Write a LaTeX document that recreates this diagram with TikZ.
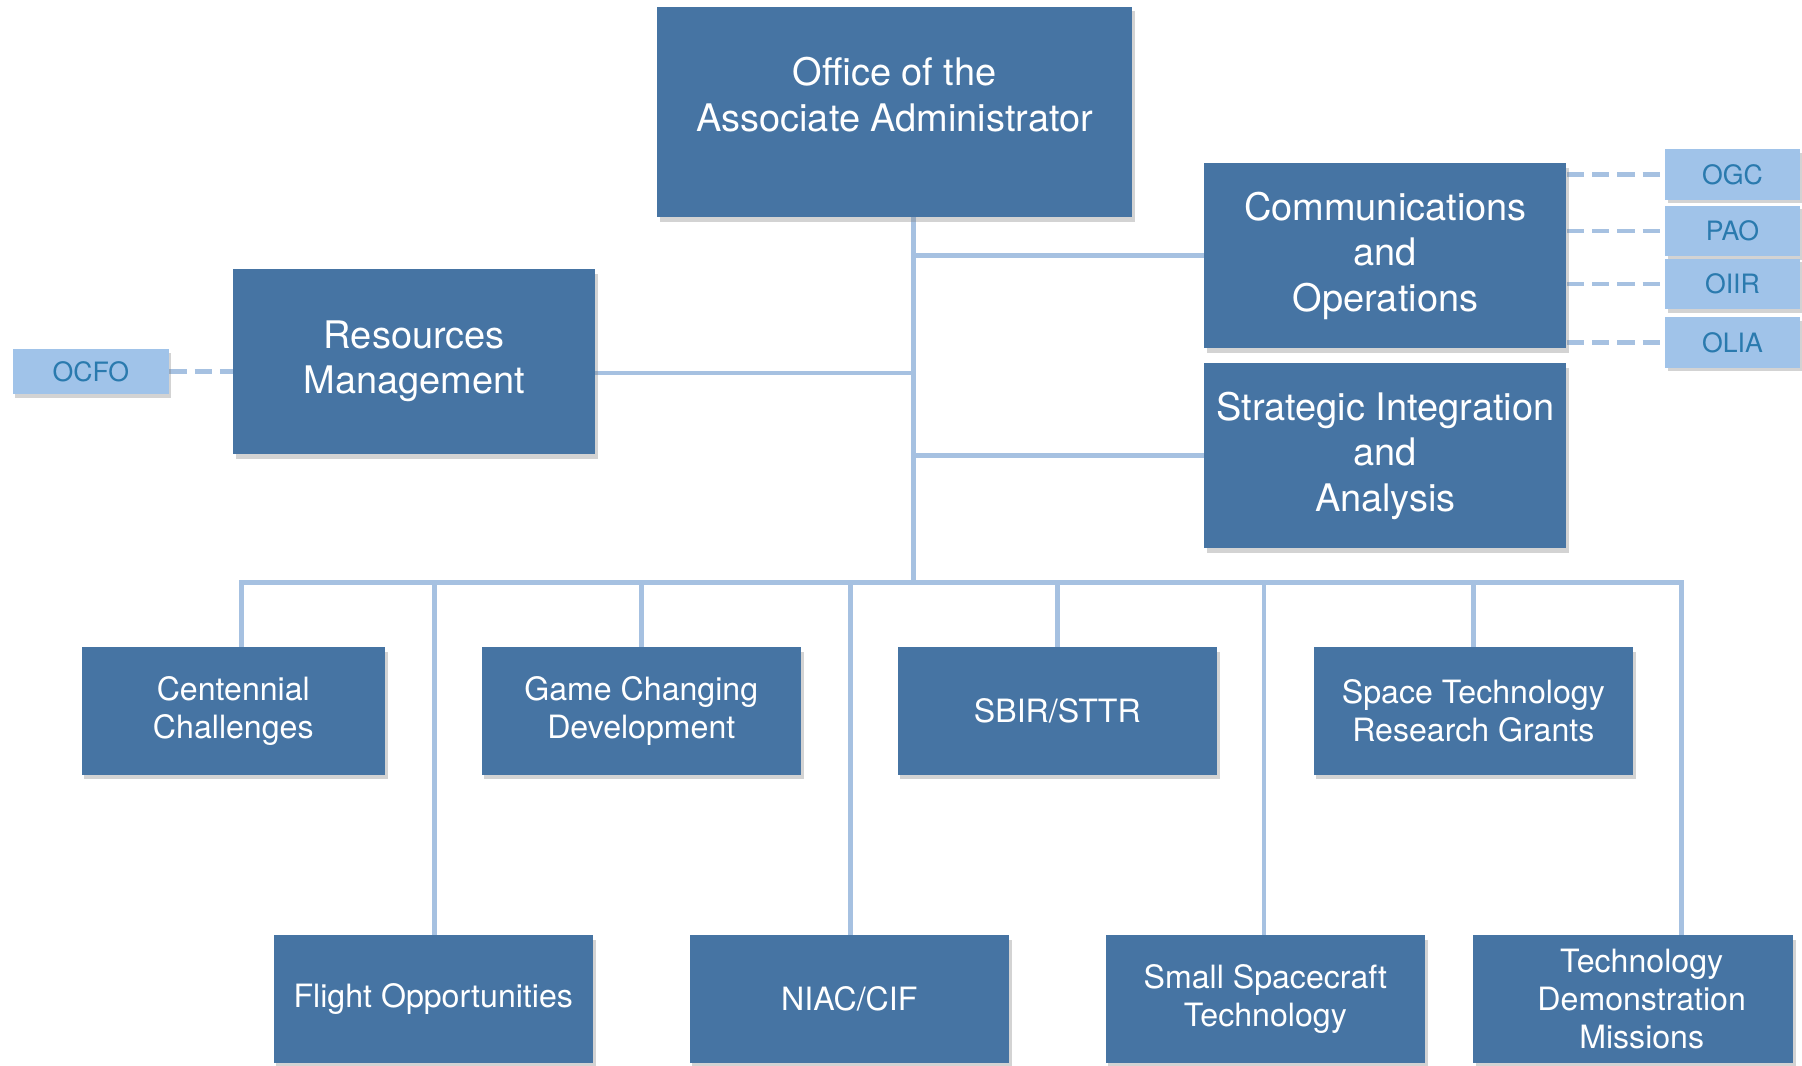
\documentclass[tikz,border=0pt]{standalone}
\usepackage{fontspec}
\setmainfont{TeX Gyre Heros}
\usepackage{tikz}
\usetikzlibrary{positioning,shadows,backgrounds}
\definecolor{unitblue}{HTML}{4674A3}
\definecolor{officeblue}{HTML}{A0C3E9}
\definecolor{officetext}{HTML}{2A7AAE}
\definecolor{linkblue}{HTML}{A6C1E1}
\tikzset{
    unit/.style={
        fill=unitblue,
        text=white,
        align=center,
        inner sep=0pt,
        drop shadow={opacity=0.35, shadow xshift=0.5mm, shadow yshift=-0.8mm},
        font=\fontsize{18.8}{22.5}\selectfont
    },
    bigunit/.style={unit, minimum width=63mm, minimum height=32.2mm},
    program/.style={
        unit,
        minimum width=55.6mm,
        minimum height=22.2mm,
        font=\fontsize{15.9}{18.8}\selectfont
    },
    office/.style={
        fill=officeblue,
        text=officetext,
        inner sep=0pt,
        drop shadow={opacity=0.35, shadow xshift=0.4mm, shadow yshift=-0.6mm},
        font=\fontsize{13.2}{15}\selectfont
    },
    link/.style={draw=linkblue, line width=0.8mm, line cap=rect},
    dashlink/.style={draw=linkblue, line width=0.8mm, dash pattern=on 3mm off 1.4mm}
}

\begin{document}
\begin{tikzpicture}[x=0.2mm, y=-0.2mm]
    \useasboundingbox (0,0) rectangle (1568,927);
    % Top units
    \node[unit, minimum width=82.6mm, minimum height=36.6mm] (oaa) at (778.5,97.5) {};
    \node[text=white, align=center, font=\fontsize{18.8}{22.5}\selectfont] (oaatext) at ([yshift=3mm]oaa.center) {Office of the\\Associate Administrator};
    \node[bigunit] (comm) at (1205.5,222.5) {Communications\\and\\Operations};
    \node[bigunit] (sia) at (1205.5,396.5) {Strategic Integration\\and\\Analysis};
    \node[bigunit] (rm) at (360.5,314.5) {Resources\\Management};

    % Offices
    \node[office, minimum width=27.2mm, minimum height=7.8mm] (OCFO) at (79,323.5) {OCFO};
    \foreach \name/\y in {OGC/152, PAO/201, OIIR/247, OLIA/298}
        \node[office, minimum width=23.4mm, minimum height=8.8mm] (\name) at (1507.5,\y) {\name};

    % Programs
    \node[program, minimum width=52.8mm] (cc) at (203,618.5) {Centennial\\Challenges};
    \node[program] (gcd) at (558,618.5) {Game Changing\\Development};
    \node[program] (sbir) at (920,618.5) {SBIR/STTR};
    \node[program] (strg) at (1282,618.5) {Space Technology\\Research Grants};
    \node[program] (fo) at (377,869.5) {Flight Opportunities};
    \node[program] (niac) at (739,869.5) {NIAC/CIF};
    \node[program] (sst) at (1101,869.5) {Small Spacecraft\\Technology};
    \node[program] (tdm) at (1421,869.5) {\hspace*{3mm}Technology\\\hspace*{3mm}Demonstration\\\hspace*{3mm}Missions};

    % Links
    \begin{scope}[on background layer]
        \coordinate (hub) at (795,507);
        \draw[link] (hub |- oaa.south) -- (hub);
        \draw[link] (hub |- comm) -- (comm.west);
        \draw[link] (hub |- sia) -- (sia.west);
        \draw[link] ([yshift=-2mm]rm.east) coordinate (rmlink) -- (rmlink -| hub);
        \foreach \x/\n in {210/cc, 378/fo, 558/gcd, 740/niac, 920/sbir, 1100/sst, 1282/strg, 1463/tdm} {
            \coordinate (d\n) at (\x,507);
            \draw[link] (d\n) -- (d\n |- \n.north);
        }
        \draw[link] (dcc) -- (dtdm);
        \draw[dashlink] (OCFO.east) -- (rm.west |- OCFO);
        \foreach \name in {OGC, PAO, OIIR, OLIA}
            \draw[dashlink] (comm.east |- \name) -- (\name.west);
    \end{scope}
\end{tikzpicture}
\end{document}
